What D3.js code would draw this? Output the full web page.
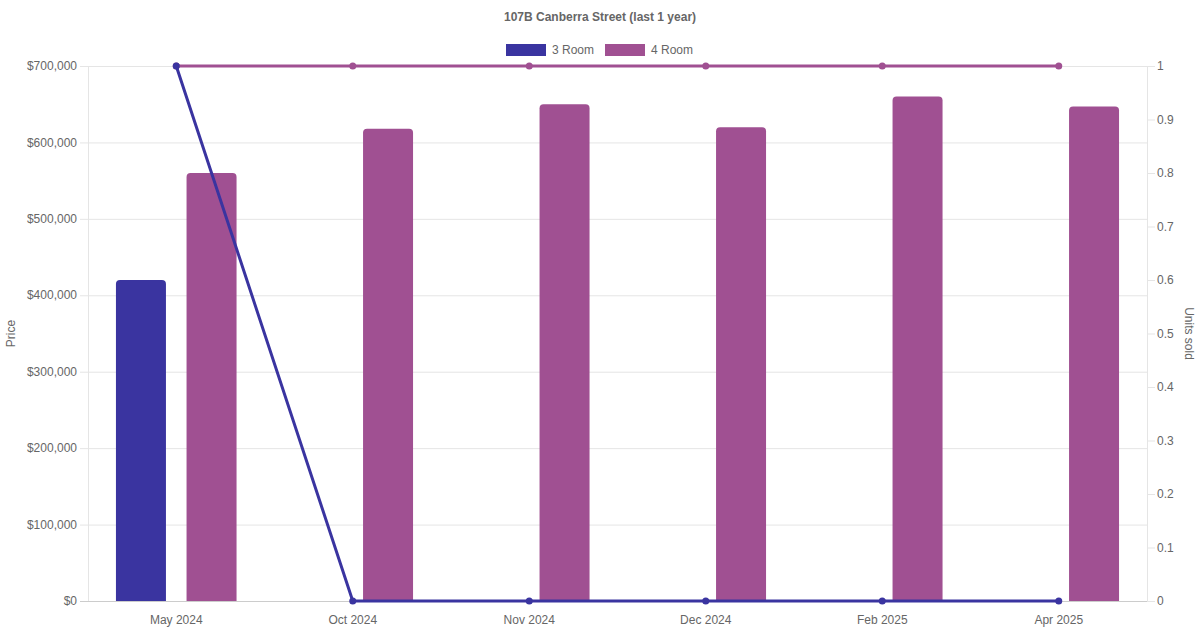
<!DOCTYPE html>
<html>
<head>
<meta charset="utf-8">
<script src="https://cdn.jsdelivr.net/npm/d3@7"></script>
<style>
  html, body { margin: 0; padding: 0; background: #fff; }
  svg { display: block; font-family: "Liberation Sans", Arial, Helvetica, sans-serif; }
</style>
</head>
<body>
<svg id="chart" width="1200" height="630"></svg>
<script>
const categories = ["May 2024", "Oct 2024", "Nov 2024", "Dec 2024", "Feb 2025", "Apr 2025"];
const seriesNames = ["3 Room", "4 Room"];
const price3Room = [420000, null, null, null, null, null];
const price4Room = [560000, 618000, 650000, 620000, 660000, 647000];
const units3Room = [1, 0, 0, 0, 0, 0];
const units4Room = [1, 1, 1, 1, 1, 1];
const priceTicks = [0, 100000, 200000, 300000, 400000, 500000, 600000, 700000];
const unitTicks = [0, 0.1, 0.2, 0.3, 0.4, 0.5, 0.6, 0.7, 0.8, 0.9, 1];
const colors = ["#3a34a0", "#a05092"];

const W = 1200, H = 630;
const m = { left: 88, right: 1147, top: 66, bottom: 601 };
const svg = d3.select("#chart");
const textColor = "#666";

const x = d3.scaleBand().domain(categories).range([m.left, m.right]).padding(0);
const yP = d3.scaleLinear().domain([0, 700000]).range([m.bottom, m.top]);
const yU = d3.scaleLinear().domain([0, 1]).range([m.bottom, m.top]);

// gridlines (price axis)
const grid = svg.append("g");
priceTicks.forEach(t => {
  grid.append("line")
    .attr("x1", m.left - 8).attr("x2", m.right)
    .attr("y1", yP(t) + 0.5).attr("y2", yP(t) + 0.5)
    .attr("stroke", t === 0 ? "#ccc" : "#e5e5e5").attr("stroke-width", 1);
});
// left axis line
svg.append("line").attr("x1", m.left + 0.5).attr("x2", m.left + 0.5)
  .attr("y1", m.top).attr("y2", m.bottom).attr("stroke", "#e5e5e5");
// right axis line + ticks
svg.append("line").attr("x1", m.right + 0.5).attr("x2", m.right + 0.5)
  .attr("y1", m.top).attr("y2", m.bottom).attr("stroke", "#e5e5e5");
unitTicks.forEach(t => {
  svg.append("line").attr("x1", m.right).attr("x2", m.right + 8)
    .attr("y1", yU(t) + 0.5).attr("y2", yU(t) + 0.5).attr("stroke", "#e5e5e5");
});

// left tick labels
const fmt = d => "$" + d3.format(",")(d);
svg.append("g").selectAll("text").data(priceTicks).join("text")
  .attr("x", m.left - 11).attr("y", d => yP(d)).attr("dy", "0.35em")
  .attr("text-anchor", "end").attr("font-size", 12).attr("fill", textColor)
  .text(fmt);
// right tick labels
svg.append("g").selectAll("text").data(unitTicks).join("text")
  .attr("x", m.right + 10).attr("y", d => yU(d)).attr("dy", "0.35em")
  .attr("text-anchor", "start").attr("font-size", 12).attr("fill", textColor)
  .text(d => d3.format("~g")(d));
// x tick labels
svg.append("g").selectAll("text").data(categories).join("text")
  .attr("x", d => x(d) + x.bandwidth() / 2).attr("y", 624)
  .attr("text-anchor", "middle").attr("font-size", 12).attr("fill", textColor)
  .text(d => d);

// axis titles
svg.append("text").attr("transform", `translate(15,${(m.top + m.bottom) / 2}) rotate(-90)`)
  .attr("text-anchor", "middle").attr("font-size", 12).attr("fill", textColor).text("Price");
svg.append("text").attr("transform", `translate(1185,${(m.top + m.bottom) / 2}) rotate(90)`)
  .attr("text-anchor", "middle").attr("font-size", 12).attr("fill", textColor).text("Units sold");

// bars
const inner = d3.scaleBand().domain(seriesNames).range([0, x.bandwidth()]).paddingInner(0).paddingOuter(0);
const catPad = x.bandwidth() * 0.1;
const inner2 = d3.scaleBand().domain(seriesNames).range([catPad, x.bandwidth() - catPad]);
const barW = Math.min(50, inner2.bandwidth() * 0.9);
function roundedTop(x0, y0, w, h, r) {
  r = Math.min(r, h, w / 2);
  return `M${x0},${y0 + h}V${y0 + r}Q${x0},${y0} ${x0 + r},${y0}H${x0 + w - r}Q${x0 + w},${y0} ${x0 + w},${y0 + r}V${y0 + h}Z`;
}
const priceSeries = [price3Room, price4Room];
priceSeries.forEach((vals, si) => {
  svg.append("g").selectAll("path").data(categories.map((c, i) => ({ c, v: vals[i] })).filter(d => d.v != null))
    .join("path")
    .attr("d", d => {
      const cx = x(d.c) + inner2(seriesNames[si]) + inner2.bandwidth() / 2;
      const top = yP(d.v);
      return roundedTop(cx - barW / 2, top, barW, m.bottom - top, 4);
    })
    .attr("fill", colors[si]);
});

// lines
const unitSeries = [units3Room, units4Room];
const line = d3.line().x((d, i) => x(categories[i]) + x.bandwidth() / 2).y(d => yU(d));
[1, 0].forEach(si => {
  const vals = unitSeries[si];
  svg.append("path").datum(vals).attr("d", line).attr("fill", "none")
    .attr("stroke", colors[si]).attr("stroke-width", 3);
  svg.append("g").selectAll("circle").data(vals).join("circle")
    .attr("cx", (d, i) => x(categories[i]) + x.bandwidth() / 2)
    .attr("cy", d => yU(d)).attr("r", 3.5).attr("fill", colors[si]);
});

// title
svg.append("text").attr("x", 600).attr("y", 21).attr("text-anchor", "middle")
  .attr("font-size", 12).attr("font-weight", "bold").attr("fill", textColor)
  .text("107B Canberra Street (last 1 year)");

// legend
const legend = [{ name: seriesNames[0], x: 506 }, { name: seriesNames[1], x: 605 }];
legend.forEach((l, i) => {
  svg.append("rect").attr("x", l.x).attr("y", 44).attr("width", 40).attr("height", 12).attr("fill", colors[i]);
  svg.append("text").attr("x", l.x + 46).attr("y", 54).attr("font-size", 12).attr("fill", textColor).text(l.name);
});
</script>
</body>
</html>
